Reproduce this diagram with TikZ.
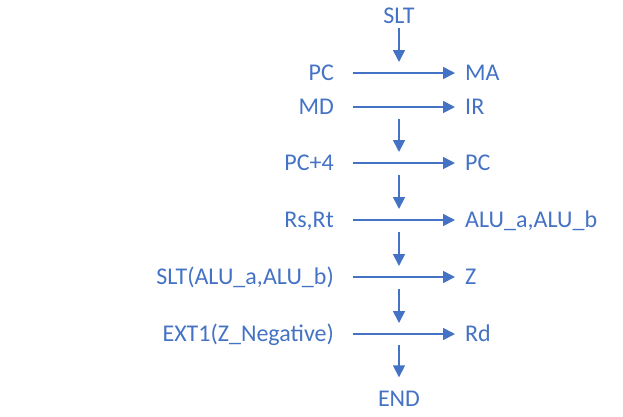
\documentclass[tikz,border=0pt]{standalone}
\usepackage{fontspec}
\setmainfont{Carlito}
\usetikzlibrary{arrows.meta}
\definecolor{flowblue}{HTML}{4472C4}
\begin{document}
\begin{tikzpicture}[x=1pt,y=-1pt,
  lbl/.style={text=flowblue,inner sep=0pt,text height=15pt,text depth=0pt,font=\fontsize{24}{28}\selectfont},
  harrow/.style={draw=flowblue,line width=1.7pt,-{Triangle[length=12pt,width=12pt]},shorten <=19pt,shorten >=10pt},
  varrow/.style={draw=flowblue,line width=1.7pt,-{Triangle[length=12pt,width=12pt]}}]
\useasboundingbox (0,0) rectangle (623,416);
\node[lbl] (slt) at (399,16) {SLT};
\node[lbl,anchor=east] (l1) at (334,73) {PC};
\node[lbl,anchor=west] (r1) at (465,73) {MA};
\node[lbl,anchor=east] (l2) at (334,107) {MD};
\node[lbl,anchor=west] (r2) at (465,107) {IR};
\node[lbl,anchor=east] (l3) at (334,163) {PC+4};
\node[lbl,anchor=west] (r3) at (465,163) {PC};
\node[lbl,anchor=east] (l4) at (334,220) {Rs,Rt};
\node[lbl,anchor=west] (r4) at (465,220) {ALU\_a,ALU\_b};
\node[lbl,anchor=east] (l5) at (334,277) {SLT(ALU\_a,ALU\_b)};
\node[lbl,anchor=west] (r5) at (465,277) {Z};
\node[lbl,anchor=east] (l6) at (334,334) {EXT1(Z\_Negative)};
\node[lbl,anchor=west] (r6) at (465,334) {Rd};
\node[lbl] (end) at (399,399) {END};
\foreach \i in {1,...,6} {\draw[harrow] (l\i.east) -- (r\i.west);}
\coordinate (c1) at (399,73);
\coordinate (c2) at (399,107);
\coordinate (c3) at (399,163);
\coordinate (c4) at (399,220);
\coordinate (c5) at (399,277);
\coordinate (c6) at (399,334);
\draw[varrow,shorten <=4pt,shorten >=11pt] (slt.south) -- (c1);
\draw[varrow,shorten <=12pt,shorten >=11pt] (c2) -- (c3);
\draw[varrow,shorten <=12pt,shorten >=11pt] (c3) -- (c4);
\draw[varrow,shorten <=12pt,shorten >=11pt] (c4) -- (c5);
\draw[varrow,shorten <=12pt,shorten >=11pt] (c5) -- (c6);
\draw[varrow,shorten <=11pt,shorten >=14pt] (c6) -- (end.north);
\end{tikzpicture}
\end{document}
